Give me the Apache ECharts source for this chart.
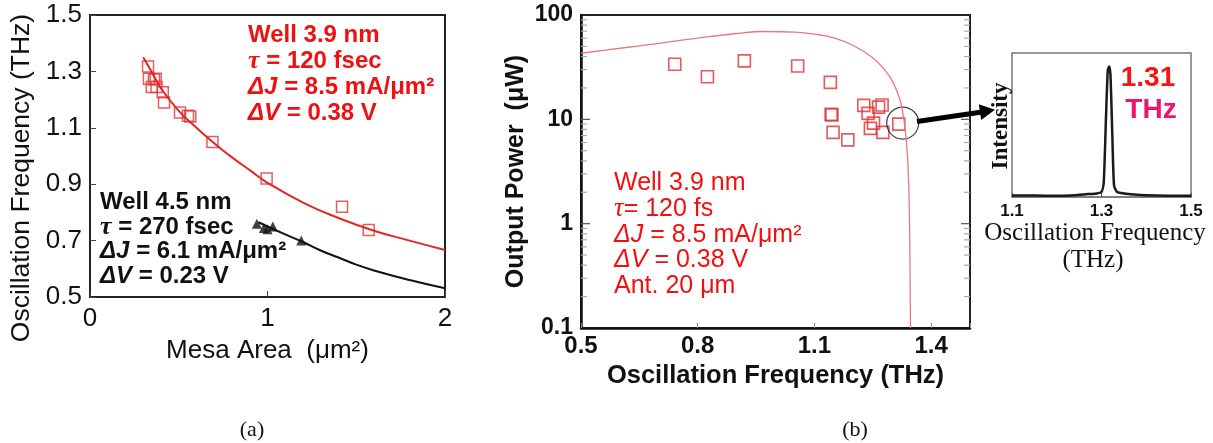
<!DOCTYPE html>
<html>
<head>
<meta charset="utf-8">
<script src="https://cdn.jsdelivr.net/npm/echarts@6/dist/echarts.min.js"></script>
<style>
html,body{margin:0;padding:0;background:#fff;}
#chart{width:1213px;height:443px;}
</style>
</head>
<body>
<div id="chart"></div>
<script>
// (a) frequency vs mesa area
var areaWell39=[0.327,0.332,0.36,0.37,0.348,0.375,0.41,0.417,0.507,0.552,0.565,0.69,0.995,1.42,1.57];
var freqWell39=[1.317,1.274,1.271,1.274,1.245,1.245,1.226,1.19,1.154,1.143,1.14,1.05,0.92,0.82,0.738];
var fitAreaWell39=[0.3,0.35,0.4,0.5,0.6,0.7,0.8,0.9,1.0,1.2,1.4,1.6,1.8,2.0];
var fitFreqWell39=[1.35,1.295,1.24,1.16,1.10,1.045,0.995,0.95,0.905,0.835,0.78,0.735,0.70,0.667];
var areaWell45=[0.94,0.98,1.0,1.03,1.19];
var freqWell45=[0.76,0.745,0.74,0.75,0.70];
var fitAreaWell45=[0.95,1.0,1.1,1.2,1.3,1.4,1.5,1.6,1.8,2.0];
var fitFreqWell45=[0.765,0.75,0.722,0.695,0.665,0.64,0.615,0.594,0.56,0.531];

// (b) output power vs frequency
var oscFreq=[0.741,0.825,0.92,1.057,1.141,1.143,1.145,1.148,1.186,1.227,1.238,1.252,1.244,1.265,1.274,1.276,1.317];
var outPower=[33.7,25.6,36.3,32.5,22.6,11.2,11.0,7.5,6.35,13.6,11.4,9.2,8.2,13.1,13.7,7.5,9.0];
var calcFreq=[0.5,0.6,0.7,0.8,0.9,0.97,1.05,1.1,1.15,1.2,1.25,1.28,1.3,1.32,1.33,1.335,1.34,1.343,1.345,1.347];
var calcPower=[43,48,53.5,60,66.5,69.5,68.5,65.5,60.5,51,39,30,23.5,15.5,10,7,4,2,0.8,0.1];
var markedPoint=[1.327,9.2];
var logTickVals=[0.2,0.3,0.4,0.5,0.6,0.7,0.8,0.9,1,2,3,4,5,6,7,8,9,10,20,30,40,50,60,70,80,90];

// inset spectrum
var specFreq=[1.1,1.15,1.2,1.25,1.27,1.29,1.3,1.305,1.31,1.314,1.317,1.32,1.324,1.328,1.335,1.35,1.38,1.42,1.46,1.5];
var specInt=[0.01,0.01,0.008,0.015,0.02,0.025,0.035,0.1,0.55,0.88,0.906,0.85,0.45,0.08,0.035,0.025,0.015,0.01,0.009,0.008];

var aTickX=['0','1','2'];
var aTickY=['0.5','0.7','0.9','1.1','1.3','1.5'];
var bTickX=['0.5','0.8','1.1','1.4'];
var bTickY=['0.1','1','10','100'];
var cTickX=['1.1','1.3','1.5'];

function pairs(xs,ys){
	var out=[];
	for(var i=0;i<xs.length;i++){
		out.push([xs[i],ys[i]]);
	}
	return out;
}
function onlyTicks(list){
	return function(v){
		var s=String(Math.round(v*1000)/1000);
		return list.indexOf(s)>=0?s:'';
	};
}

var sans='Liberation Sans, Arial, sans-serif';
var serif='Liberation Serif, Times New Roman, serif';
var red='#f01010';

function richSans(size,weight,color,lh){
	return {
		i:{fontFamily:sans,fontStyle:'italic',fontWeight:weight,fontSize:size,fill:color,lineHeight:lh},
		t:{fontFamily:serif,fontStyle:'italic',fontWeight:weight,fontSize:size+2,fill:color,lineHeight:lh}
	};
}

var myChart=echarts.init(document.getElementById('chart'));
var option={
	animation:false,
	backgroundColor:'#fff',
	grid:[
		{left:90,top:15,width:355,height:282,show:true,borderColor:'#222',borderWidth:2},
		{left:581,top:15,width:389,height:313,show:true,borderColor:'#222',borderWidth:2},
		{left:1012,top:53,width:179,height:144,show:true,borderColor:'#777',borderWidth:1.5}
	],
	xAxis:[
		{
			gridIndex:0,type:'value',min:0,max:2,interval:1,
			splitLine:{show:false},
			axisLine:{lineStyle:{color:'#222',width:2}},
			axisTick:{inside:true,length:6,lineStyle:{color:'#444'}},
			axisLabel:{fontFamily:sans,fontSize:26,color:'#111',margin:9,formatter:onlyTicks(aTickX)},
			name:'Mesa Area  (μm²)',nameLocation:'middle',nameGap:41,
			nameTextStyle:{fontFamily:sans,fontSize:26,color:'#111'}
		},
		{
			gridIndex:1,type:'value',min:0.5,max:1.5,interval:0.3,
			splitLine:{show:false},
			axisLine:{lineStyle:{color:'#111',width:2.5}},
			axisTick:{inside:true,length:5,lineStyle:{color:'#888'}},
			axisLabel:{fontFamily:sans,fontSize:24,fontWeight:'bold',color:'#111',margin:6,formatter:onlyTicks(bTickX)},
			name:'Oscillation Frequency (THz)',nameLocation:'middle',nameGap:33,
			nameTextStyle:{fontFamily:sans,fontSize:25.5,fontWeight:'bold',color:'#111'}
		},
		{
			gridIndex:2,type:'value',min:1.1,max:1.5,interval:0.2,
			splitLine:{show:false},
			axisLine:{lineStyle:{color:'#777',width:1.5}},
			axisTick:{inside:true,length:4,lineStyle:{color:'#555'}},
			axisLabel:{fontFamily:sans,fontSize:17,fontWeight:'bold',color:'#111',margin:6,formatter:onlyTicks(cTickX)}
		}
	],
	yAxis:[
		{
			gridIndex:0,type:'value',min:0.5,max:1.5,interval:0.2,
			splitLine:{show:false},
			axisLine:{lineStyle:{color:'#222',width:2}},
			axisTick:{inside:true,length:6,lineStyle:{color:'#444'}},
			axisLabel:{fontFamily:sans,fontSize:26,color:'#111',margin:8,formatter:onlyTicks(aTickY)}
		},
		{
			gridIndex:1,type:'log',logBase:10,min:0.1,max:100,
			splitLine:{show:false},
			axisLine:{lineStyle:{color:'#111',width:2.5}},
			axisTick:{show:false},
			axisLabel:{fontFamily:sans,fontSize:23,fontWeight:'bold',color:'#111',margin:8,formatter:onlyTicks(bTickY)},
			name:'Output Power  (μW)',nameLocation:'middle',nameGap:52,
			nameTextStyle:{fontFamily:sans,fontSize:25,fontWeight:'bold',color:'#111'}
		},
		{
			gridIndex:2,type:'value',min:0,max:1,
			show:false
		}
	],
	series:[
		{
			type:'line',xAxisIndex:0,yAxisIndex:0,data:pairs(fitAreaWell39,fitFreqWell39),
			smooth:true,showSymbol:false,lineStyle:{color:'#e52525',width:2}
		},
		{
			type:'line',xAxisIndex:0,yAxisIndex:0,data:pairs(fitAreaWell45,fitFreqWell45),
			smooth:true,showSymbol:false,lineStyle:{color:'#111',width:2}
		},
		{
			type:'scatter',xAxisIndex:0,yAxisIndex:0,data:pairs(areaWell39,freqWell39),
			symbol:'rect',symbolSize:11,
			itemStyle:{color:'rgba(255,255,255,0)',borderColor:'#e03535',borderWidth:1.5}
		},
		{
			type:'scatter',xAxisIndex:0,yAxisIndex:0,data:pairs(areaWell45,freqWell45),
			symbol:'triangle',symbolSize:10,itemStyle:{color:'#111'}
		},
		{
			type:'line',xAxisIndex:1,yAxisIndex:1,data:pairs(calcFreq,calcPower),
			smooth:0.4,showSymbol:false,lineStyle:{color:'#e67a7a',width:1.3}
		},
		{
			type:'scatter',xAxisIndex:1,yAxisIndex:1,data:pairs(oscFreq,outPower),
			symbol:'rect',symbolSize:12,
			itemStyle:{color:'rgba(255,255,255,0)',borderColor:'#e03030',borderWidth:1.6}
		},
		{
			type:'scatter',xAxisIndex:1,yAxisIndex:1,data:[markedPoint],
			symbol:'circle',symbolSize:32,
			itemStyle:{color:'rgba(255,255,255,0)',borderColor:'#111',borderWidth:1.2}
		},
		{
			// log ticks, both edges
			type:'custom',xAxisIndex:1,yAxisIndex:1,
			data:logTickVals.map(function(v){return [0.5,v];}),
			renderItem:function(params,api){
				var v=api.value(1);
				var y=api.coord([0.5,v])[1];
				var cs=params.coordSys;
				var major=Math.abs(Math.log(v)/Math.LN10-Math.round(Math.log(v)/Math.LN10))<1e-6;
				var len=major?9:6;
				var col=major?'#555':'#aaa';
				return {type:'group',children:[
					{type:'line',shape:{x1:cs.x,y1:y,x2:cs.x+len,y2:y},style:{stroke:col,lineWidth:1.2}},
					{type:'line',shape:{x1:cs.x+cs.width,y1:y,x2:cs.x+cs.width-len,y2:y},style:{stroke:col,lineWidth:1.2}}
				]};
			}
		},
		{
			type:'line',xAxisIndex:2,yAxisIndex:2,data:pairs(specFreq,specInt),
			smooth:0.2,showSymbol:false,lineStyle:{color:'#1a1a1a',width:2.5}
		}
	],
	graphic:[
		{
			type:'text',x:22,y:178,rotation:Math.PI/2,
			style:{text:'Oscillation Frequency (THz)',fontFamily:sans,fontSize:26.5,fill:'#111',align:'center',verticalAlign:'middle'}
		},
		{
			type:'text',x:248,y:23,
			style:{
				text:'Well 3.9 nm\n{t|τ} = 120 fsec\n{i|ΔJ} = 8.5 mA/μm²\n{i|ΔV} = 0.38 V',
				fontFamily:sans,fontSize:24,fontWeight:'bold',fill:red,lineHeight:25.7,
				rich:richSans(24,'bold',red,25.7)
			}
		},
		{
			type:'text',x:100,y:190,
			style:{
				text:'Well 4.5 nm\n{t|τ} = 270 fsec\n{i|ΔJ} = 6.1 mA/μm²\n{i|ΔV} = 0.23 V',
				fontFamily:sans,fontSize:24,fontWeight:'bold',fill:'#111',lineHeight:24.7,
				rich:richSans(24,'bold','#111',24.7)
			}
		},
		{
			type:'text',x:614,y:170.5,
			style:{
				text:'Well 3.9 nm\n{t|τ}= 120 fs\n{i|ΔJ} = 8.5 mA/μm²\n{i|ΔV} = 0.38 V\nAnt. 20 μm',
				fontFamily:sans,fontSize:25,fill:red,lineHeight:25.7,
				rich:richSans(25,'normal',red,25.7)
			}
		},
		{
			type:'line',shape:{x1:917,y1:121.5,x2:982,y2:112},
			style:{stroke:'#000',lineWidth:5}
		},
		{
			type:'polygon',shape:{points:[[995,109.8],[981.2,120],[978.8,104.2]]},
			style:{fill:'#000'}
		},
		{
			type:'text',x:1001,y:126,rotation:Math.PI/2,
			style:{text:'Intensity',fontFamily:serif,fontSize:23,fontWeight:'bold',fill:'#111',align:'center',verticalAlign:'middle'}
		},
		{
			type:'text',x:1148,y:78,
			style:{text:'1.31',fontFamily:sans,fontSize:28,fontWeight:'bold',fill:'#f41414',align:'center',verticalAlign:'middle'}
		},
		{
			type:'text',x:1151,y:110,
			style:{text:'THz',fontFamily:sans,fontSize:28,fontWeight:'bold',fill:'#f0146e',align:'center',verticalAlign:'middle'}
		},
		{
			type:'text',x:1095,y:233,
			style:{text:'Oscillation Frequency',fontFamily:serif,fontSize:25,fill:'#111',align:'center',verticalAlign:'middle'}
		},
		{
			type:'text',x:1093,y:260,
			style:{text:'(THz)',fontFamily:serif,fontSize:25,fill:'#111',align:'center',verticalAlign:'middle'}
		},
		{
			type:'text',x:252,y:430,
			style:{text:'(a)',fontFamily:serif,fontSize:22,fill:'#111',align:'center',verticalAlign:'middle'}
		},
		{
			type:'text',x:855,y:430,
			style:{text:'(b)',fontFamily:serif,fontSize:22,fill:'#111',align:'center',verticalAlign:'middle'}
		}
	]
};
myChart.setOption(option);
</script>
</body>
</html>
